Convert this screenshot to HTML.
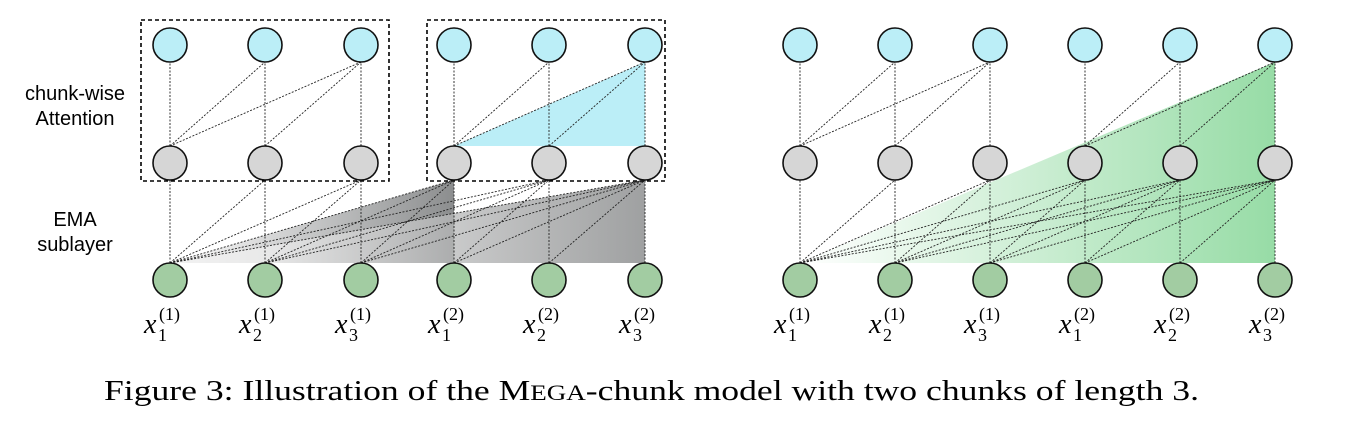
<!DOCTYPE html>
<html><head><meta charset="utf-8"><style>
html,body{margin:0;padding:0;background:#fff;width:1350px;height:426px;overflow:hidden}
svg{display:block}
.lab{font-family:"Liberation Sans",sans-serif;font-size:20px;fill:#000}
.m{font-family:"Liberation Serif",serif;font-style:italic;font-size:28px}
.s{font-family:"Liberation Serif",serif;font-size:18px}
</style></head><body>
<svg id="s" width="1350" height="426" viewBox="0 0 1350 426" xmlns="http://www.w3.org/2000/svg">
<defs>
<linearGradient id="g1" x1="170" y1="0" x2="454" y2="0" gradientUnits="userSpaceOnUse"><stop offset="0" stop-color="#fff"/><stop offset="1" stop-color="#7f8182"/></linearGradient>
<linearGradient id="g2" x1="265" y1="0" x2="645" y2="0" gradientUnits="userSpaceOnUse"><stop offset="0" stop-color="#eee"/><stop offset="1" stop-color="#7f8182"/></linearGradient>
<linearGradient id="g3" x1="800" y1="0" x2="1275" y2="0" gradientUnits="userSpaceOnUse"><stop offset="0" stop-color="#fff"/><stop offset="1" stop-color="#97dca6"/></linearGradient>
</defs>
<polygon points="170,263 454,180 454,263" fill="url(#g1)" opacity="0.9"/>
<polygon points="170,263 645,180 645,263" fill="url(#g2)" opacity="0.75"/>
<polygon points="454,146 645,62 645,146" fill="#bbeef7"/>
<polygon points="800,263 1275,62 1275,263" fill="url(#g3)"/>
<rect x="141" y="20" width="248" height="161" fill="none" stroke="#000" stroke-width="1.6" stroke-dasharray="4,3"/>
<rect x="427" y="20" width="238" height="161" fill="none" stroke="#000" stroke-width="1.6" stroke-dasharray="4,3"/>
<g id="lines" stroke="#222" stroke-width="0.9" stroke-dasharray="2,1.5"></g>
<g id="nodes" stroke="#111" stroke-width="1.6"></g>
<text class="lab" x="75" y="100" text-anchor="middle">chunk-wise</text>
<text class="lab" x="75" y="125" text-anchor="middle">Attention</text>
<text class="lab" x="75" y="226" text-anchor="middle">EMA</text>
<text class="lab" x="75" y="251" text-anchor="middle">sublayer</text>
<g id="labels"></g>
<text x="104" y="400" font-family="Liberation Serif,serif" font-size="29" textLength="1095" lengthAdjust="spacingAndGlyphs">Figure 3: Illustration of the M<tspan font-size="22">EGA</tspan>-chunk model with two chunks of length 3.</text>
</svg>
<script>
var NS="http://www.w3.org/2000/svg";
function el(p,t,a){var e=document.createElementNS(NS,t);for(var k in a)e.setAttribute(k,a[k]);p.appendChild(e);return e;}
var L=document.getElementById("lines"),N=document.getElementById("nodes"),T=document.getElementById("labels");
var XL=[170,265,361,454,549,645],XR=[800,895,990,1085,1180,1275];
var yt=45,ym=163,yb=280,r=17;
function sets(X){
 for(var i=0;i<6;i++)for(var j=i;j<6;j++){
  el(L,"line",{x1:X[i],y1:yb-r,x2:X[j],y2:ym+r});
  if(Math.floor(i/3)==Math.floor(j/3))el(L,"line",{x1:X[i],y1:ym-r,x2:X[j],y2:yt+r});
 }
 for(var i=0;i<6;i++){
  el(N,"circle",{cx:X[i],cy:yt,r:r,fill:"#bbeef7"});
  el(N,"circle",{cx:X[i],cy:ym,r:r,fill:"#d6d6d6"});
  el(N,"circle",{cx:X[i],cy:yb,r:r,fill:"#a2cca2"});
  var sub=(i%3)+1,sup=i<3?1:2;
  var t=el(T,"text",{x:X[i]-26,y:333,"class":"m"});t.textContent="x";
  var a=el(T,"text",{x:X[i]-12,y:341,"class":"s"});a.textContent=sub;
  var b=el(T,"text",{x:X[i]-11,y:320,"class":"s"});b.textContent="("+sup+")";
 }
}
sets(XL);sets(XR);
</script>
</body></html>
